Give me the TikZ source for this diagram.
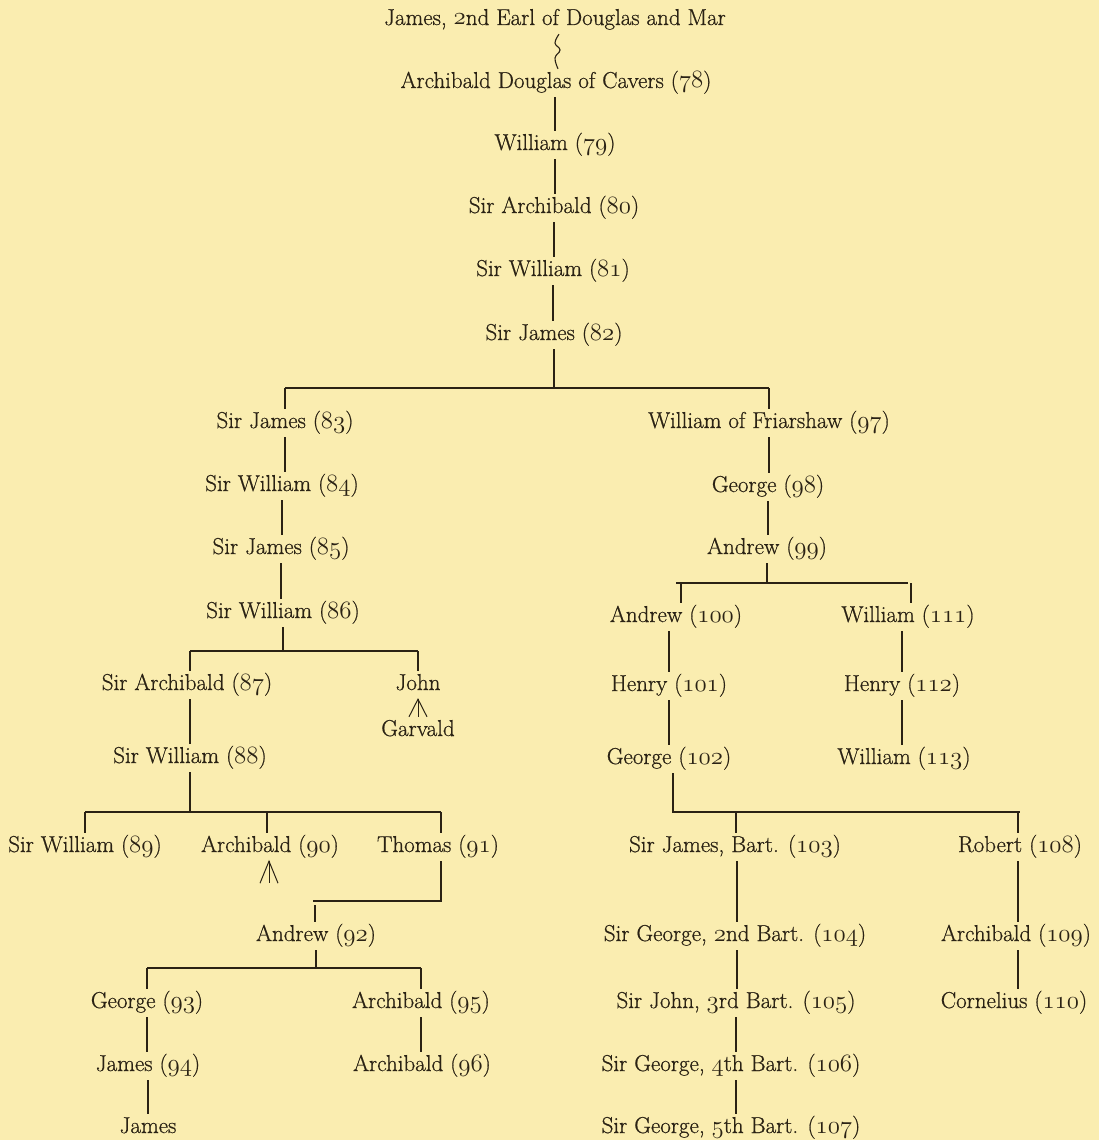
\documentclass[tikz,border=0pt]{standalone}
\usepackage{fontspec}
\newfontfamily\gfont{Latin Modern Roman}[FakeBold=0.7]
\definecolor{paper}{RGB}{250,237,176}
\definecolor{ink}{RGB}{42,34,20}
\newcommand\osn[1]{{\usefont{OML}{cmm}{m}{it}#1}}
\begin{document}
\begin{tikzpicture}[x=1pt,y=-1pt,
  p/.style={text=ink, font=\gfont\fontsize{23}{26}\selectfont, inner xsep=0pt, inner ysep=4pt, text height=15pt, text depth=5pt},
  ln/.style={draw=ink, line width=1.4pt},
  bar/.style={draw=ink, line width=1.1pt}]
\fill[paper] (0,0) rectangle (1099,1140);
\useasboundingbox (0,0) rectangle (1099,1140);
% nodes
\node[p] (top) at (555,20) {James, \osn{2}nd Earl of Douglas and Mar};
\node[p] (a78) at (556,83) {Archibald Douglas of Cavers (\osn{78})};
\node[p] (w79) at (555,145) {William (\osn{79})};
\node[p] (a80) at (554,208) {Sir Archibald (\osn{80})};
\node[p] (w81) at (553,271) {Sir William (\osn{81})};
\node[p] (j82) at (554,335) {Sir James (\osn{82})};
\node[p] (j83) at (285,423) {Sir James (\osn{83})};
\node[p] (w97) at (769,423) {William of Friarshaw (\osn{97})};
\node[p] (w84) at (282,486) {Sir William (\osn{84})};
\node[p] (j85) at (281,549) {Sir James (\osn{85})};
\node[p] (w86) at (283,613) {Sir William (\osn{86})};
\node[p] (a87) at (187,685) {Sir Archibald (\osn{87})};
\node[p] (john) at (418,685) {John};
\node[p] (garv) at (418,731) {Garvald};
\node[p] (w88) at (190,758) {Sir William (\osn{88})};
\node[p] (w89) at (85,847) {Sir William (\osn{89})};
\node[p] (a90) at (270,847) {Archibald (\osn{90})};
\node[p] (t91) at (438,847) {Thomas (\osn{91})};
\node[p] (an92) at (316,936) {Andrew (\osn{92})};
\node[p] (g93) at (147,1003) {George (\osn{93})};
\node[p] (a95) at (421,1003) {Archibald (\osn{95})};
\node[p] (j94) at (148,1066) {James (\osn{94})};
\node[p] (jam) at (148,1128) {James};
\node[p] (a96) at (422,1066) {Archibald (\osn{96})};
\node[p] (g98) at (768,487) {George (\osn{98})};
\node[p] (an99) at (767,549) {Andrew (\osn{99})};
\node[p] (an100) at (676,617) {Andrew (\osn{100})};
\node[p] (w111) at (908,617) {William (\osn{111})};
\node[p] (h101) at (669,686) {Henry (\osn{101})};
\node[p] (h112) at (902,686) {Henry (\osn{112})};
\node[p] (g102) at (669,759) {George (\osn{102})};
\node[p] (w113) at (904,759) {William (\osn{113})};
\node[p] (j103) at (735,847) {Sir James, Bart. (\osn{103})};
\node[p] (r108) at (1020,847) {Robert (\osn{108})};
\node[p] (g104) at (735,936) {Sir George, \osn{2}nd Bart. (\osn{104})};
\node[p] (j105) at (736,1003) {Sir John, \osn{3}rd Bart. (\osn{105})};
\node[p] (g106) at (731,1066) {Sir George, \osn{4}th Bart. (\osn{106})};
\node[p] (g107) at (731,1128) {Sir George, \osn{5}th Bart. (\osn{107})};
\node[p] (a109) at (1016,936) {Archibald (\osn{109})};
\node[p] (c110) at (1014,1003) {Cornelius (\osn{110})};
% bar levels
\coordinate (b1) at (0,388);
\coordinate (b2) at (0,651);
\coordinate (b3) at (0,812);
\coordinate (b4) at (0,968);
\coordinate (b5) at (0,583);
\coordinate (b7) at (0,901);
% squiggle between the Earl and Archibald (78)
\coordinate (sqa) at (555,43);
\coordinate (sqb) at (560,50);
\coordinate (sqc) at (555,58);
\draw[ink, line width=1.1pt] plot[smooth, tension=0.7] coordinates {([xshift=4pt]top.south) (sqa) (sqb) (sqc) ([xshift=2pt]a78.north)};
% main chain
\draw[ln] (a78.south -| w79) -- (w79.north);
\draw[ln] (w79.south) -- (w79.south |- a80.north);
\draw[ln] (a80.south) -- (a80.south |- w81.north);
\draw[ln] (w81.south) -- (w81.south |- j82.north);
\draw[ln] (j82.south) -- (j82.south |- b1);
\draw[bar] (j83.north |- b1) -- (w97.north |- b1);
\draw[ln] (j83.north) -- (j83.north |- b1);
\draw[ln] (w97.north) -- (w97.north |- b1);
% left branch
\draw[ln] (j83.south) -- (j83.south |- w84.north);
\draw[ln] (w84.south) -- (w84.south |- j85.north);
\draw[ln] (j85.south) -- (j85.south |- w86.north);
\draw[ln] (w86.south) -- (w86.south |- b2);
\draw[bar] ([xshift=3pt]a87.north |- b2) -- (john.north |- b2);
\draw[ln] ([xshift=3pt]a87.north) -- ([xshift=3pt]a87.north |- b2);
\draw[ln] (john.north) -- (john.north |- b2);
% descent mark under John
\draw[ink, line width=1pt] (john.south) -- (garv.north);
\draw[ink, line width=1pt] ([xshift=-9pt]garv.north) -- (john.south) -- ([xshift=9pt]garv.north);
\draw[ln] ([xshift=3pt]a87.south) -- (w88.north);
\draw[ln] (w88.south) -- (w88.south |- b3);
\draw[bar] (w89.north |- b3) -- ([xshift=3pt]t91.north |- b3);
\draw[ln] (w89.north) -- (w89.north |- b3);
\draw[ln] ([xshift=-3pt]a90.north) -- ([xshift=-3pt]a90.north |- b3);
\draw[ln] ([xshift=3pt]t91.north) -- ([xshift=3pt]t91.north |- b3);
% descent mark under Archibald (90)
\draw[ink, line width=1pt] ([xshift=-10pt,yshift=-22pt]a90.south) -- ([xshift=-1pt]a90.south) -- ([xshift=8pt,yshift=-22pt]a90.south);
\draw[ink, line width=1pt] ([xshift=-1pt]a90.south) -- ([xshift=-1pt,yshift=-22pt]a90.south);
% Thomas to Andrew (92)
\draw[ln] ([xshift=3pt]t91.south) -- ([xshift=3pt]t91.south |- b7) -- ([xshift=-3pt]an92.north |- b7);
\draw[ln] ([xshift=-1pt]an92.north) -- ([xshift=-1pt,yshift=17pt]an92.north);
\draw[ln] (an92.south) -- (an92.south |- b4);
\draw[bar] (g93.north |- b4) -- (a95.north |- b4);
\draw[ln] (g93.north) -- (g93.north |- b4);
\draw[ln] (a95.north) -- (a95.north |- b4);
\draw[ln] (g93.south) -- (g93.south |- j94.north);
\draw[ln] (j94.south) -- (jam.north);
\draw[ln] (a95.south) -- (a96.north -| a95.south);
% right branch
\draw[ln] (w97.south) -- (w97.south |- g98.north);
\draw[ln] (g98.south) -- (g98.south |- an99.north);
\draw[ln] (an99.south) -- (an99.south |- b5);
\draw[bar] (an100.north |- b5) -- (w111.north |- b5);
\draw[ln] ([xshift=5pt]an100.north) -- ([xshift=5pt]an100.north |- b5);
\draw[ln] ([xshift=3pt]w111.north) -- ([xshift=3pt]w111.north |- b5);
\draw[ln] (h101.north |- an100.south) -- (h101.north);
\draw[ln] (h101.south) -- (g102.north);
\draw[ln] (h112.north |- w111.south) -- (h112.north);
\draw[ln] (h112.south) -- (h112.south |- w113.north);
\draw[ln] ([xshift=4pt]g102.south) |- (r108.north |- b3);
\draw[ln] ([xshift=1pt]j103.north) -- ([xshift=1pt]j103.north |- b3);
\draw[ln] ([xshift=-2pt]r108.north) -- ([xshift=-2pt]r108.north |- b3);
\draw[ln] ([xshift=2pt]j103.south) -- ([xshift=2pt]j103.south |- g104.north);
\draw[ln] ([xshift=2pt]g104.south) -- ([xshift=2pt]g104.south |- j105.north);
\draw[ln] (j105.south) -- (j105.south |- g106.north);
\draw[ln] (g106.south -| j105.south) -- (g107.north -| j105.south);
\draw[ln] ([xshift=-2pt]r108.south) -- ([xshift=-2pt]r108.south |- a109.north);
\draw[ln] ([xshift=2pt]a109.south) -- ([xshift=2pt]a109.south |- c110.north);
\end{tikzpicture}
\end{document}
